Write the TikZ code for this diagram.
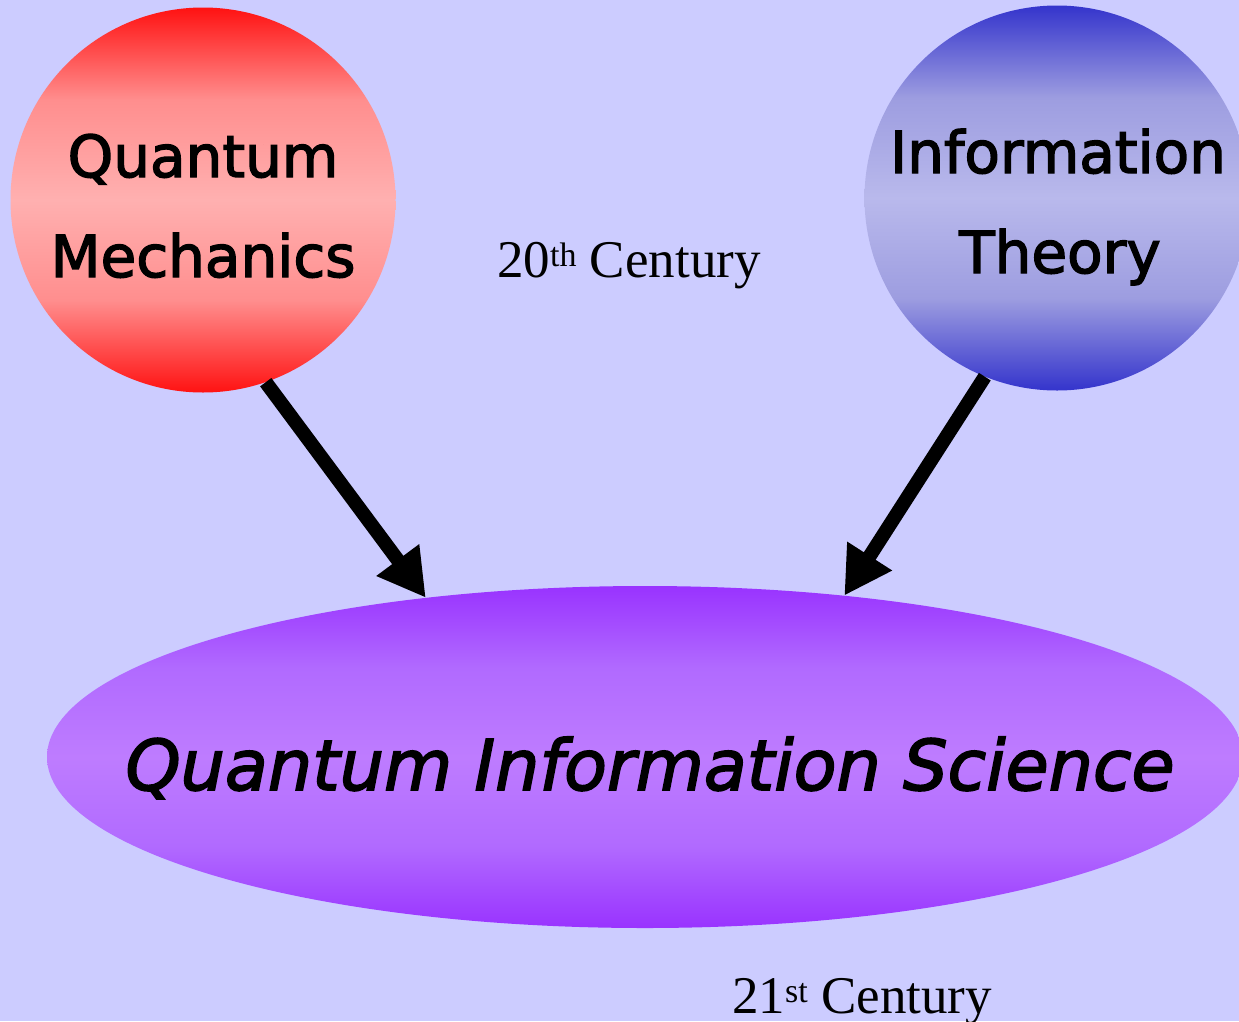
\documentclass[tikz,border=0pt]{standalone}
\usepackage{fontspec}
\setmainfont{Liberation Serif}
\newfontfamily\dejasans[FakeBold=2.4]{DejaVu Sans}
\usetikzlibrary{arrows.meta,shapes.geometric}
\definecolor{bgcol}{HTML}{CCCCFF}
\definecolor{rededge}{HTML}{FF1212}
\definecolor{redmidA}{HTML}{FF8E8E}
\definecolor{redmid}{HTML}{FFB0B0}
\definecolor{blueedge}{HTML}{3434CC}
\definecolor{bluemidA}{HTML}{9D9DE0}
\definecolor{bluemid}{HTML}{B9B9EC}
\definecolor{purpedge}{HTML}{9933FF}
\definecolor{purpmidA}{HTML}{B16AFF}
\definecolor{purpmid}{HTML}{BE7CFF}
\pgfdeclareverticalshading{redsh}{100bp}{color(0bp)=(rededge); color(25bp)=(rededge); color(37bp)=(redmidA); color(50bp)=(redmid); color(63bp)=(redmidA); color(75bp)=(rededge); color(100bp)=(rededge)}
\pgfdeclareverticalshading{bluesh}{100bp}{color(0bp)=(blueedge); color(25bp)=(blueedge); color(37bp)=(bluemidA); color(50bp)=(bluemid); color(63bp)=(bluemidA); color(75bp)=(blueedge); color(100bp)=(blueedge)}
\pgfdeclareverticalshading{purpsh}{100bp}{color(0bp)=(purpedge); color(25bp)=(purpedge); color(37bp)=(purpmidA); color(50bp)=(purpmid); color(63bp)=(purpmidA); color(75bp)=(purpedge); color(100bp)=(purpedge)}
\tikzset{
  ball/.style={circle, draw=none, minimum size=385pt, inner sep=0pt},
  redball/.style={ball, shading=redsh},
  blueball/.style={ball, shading=bluesh},
  bigoval/.style={ellipse, draw=none, minimum width=1196pt, minimum height=342pt, inner sep=0pt,
    shading=purpsh},
  balltext/.style={anchor=base, inner sep=0pt, font=\dejasans\fontsize{58}{58}\selectfont},
  ovaltext/.style={anchor=base, inner sep=0pt, font=\dejasans\itshape\fontsize{70}{70}\selectfont},
  centtext/.style={anchor=base west, inner sep=0pt, font=\fontsize{53}{53}\selectfont},
  bigarrow/.style={line width=14pt, -{Triangle[length=47pt,width=50pt]}}
}
\newcommand{\mysup}[1]{\raisebox{11pt}{\fontsize{34}{34}\selectfont #1}}
\begin{document}
\begin{tikzpicture}[x=1pt,y=-1pt]
\fill[bgcol] (0,0) rectangle (1239,1021);
\useasboundingbox (0,0) rectangle (1239,1021);
\node[redball] (qm) at (203,200) {};
\node[blueball] (it) at (1057,198) {};
\node[bigoval] (qis) at (645,757) {};
\node[balltext] (qm1) at (203,177) {Quantum};
\node[balltext] (qm2) at (203,277) {Mechanics};
\node[balltext] (it1) at (1058,173) {Information};
\node[balltext] (it2) at (1060,273) {Theory};
\node[ovaltext] (qist) at (650,790) {Quantum Information Science};
\node[centtext] (c20) at (497,277) {20\mysup{th} Century};
\node[centtext] (c21) at (732,1013) {21\mysup{st} Century};
\draw[bigarrow] (qm.-71) -- (qis.144.6);
\draw[bigarrow] (it.248) -- (qis.39.8);
\end{tikzpicture}
\end{document}
